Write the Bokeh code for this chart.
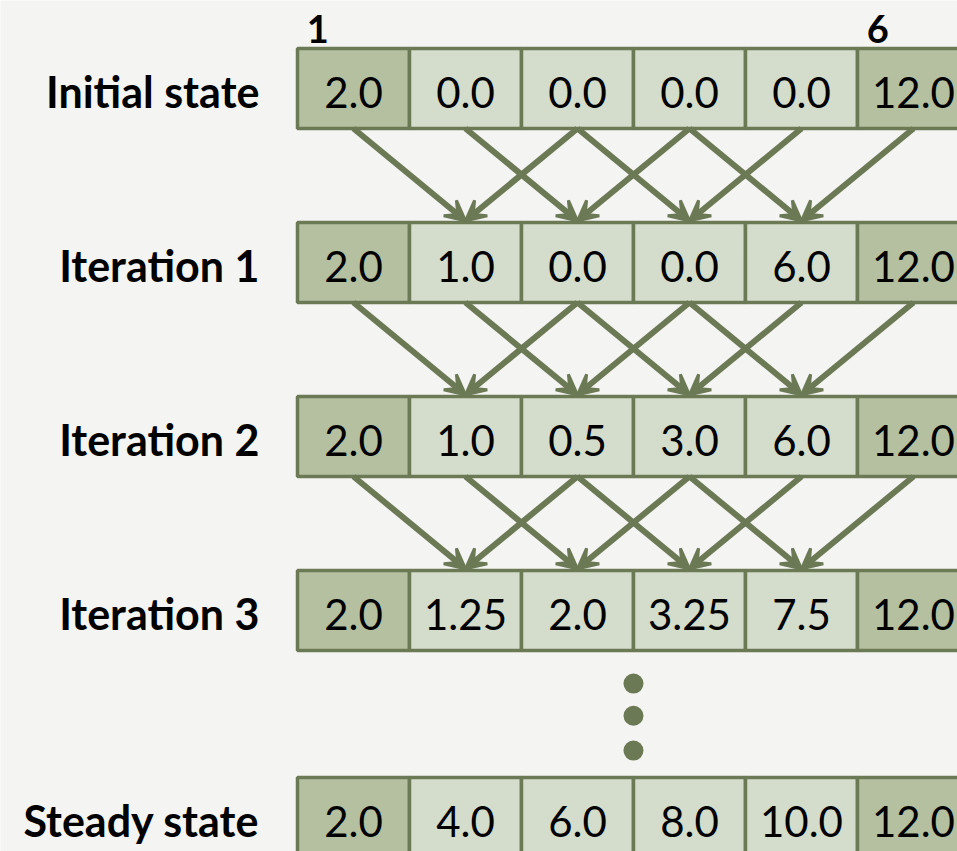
from bokeh.plotting import figure
from bokeh.models import Range1d, ColumnDataSource, Arrow, VeeHead
from bokeh.core.properties import value
from bokeh.embed import file_html
from bokeh.resources import INLINE

# ---- data ----
row_labels = ["Initial state", "Iteration 1", "Iteration 2", "Iteration 3", "Steady state"]
row_values = [
    ["2.0", "0.0", "0.0", "0.0", "0.0", "12.0"],
    ["2.0", "1.0", "0.0", "0.0", "6.0", "12.0"],
    ["2.0", "1.0", "0.5", "3.0", "6.0", "12.0"],
    ["2.0", "1.25", "2.0", "3.25", "7.5", "12.0"],
    ["2.0", "4.0", "6.0", "8.0", "10.0", "12.0"],
]
column_headers = {1: "1", 6: "6"}
boundary_columns = [1, 6]          # fixed (darker) cells
row_positions = [0, 1, 2, 3, 4.19]  # vertical slot of each row
ellipsis_y = [3.42, 3.605, 3.805]

# ---- style ----
DARK = "#b4c0a0"
LIGHT = "#d4dccb"
EDGE = "#6b7955"
BG = "#f4f4f2"
ROW_H = 80 / 174

ncols = len(row_values[0])

p = figure(width=957, height=851, output_backend="svg", toolbar_location=None,
           x_range=Range1d(-2.1518, 6.393), y_range=Range1d(4.385, -0.5057),
           min_border=0)
p.axis.visible = False
p.grid.visible = False
p.outline_line_color = None
p.background_fill_color = BG
p.border_fill_color = BG

# cells
xs, ys, fills, texts = [], [], [], []
for r, vals in enumerate(row_values):
    for c, v in enumerate(vals, start=1):
        xs.append(c)
        ys.append(row_positions[r])
        fills.append(DARK if c in boundary_columns else LIGHT)
        texts.append(v)
src = ColumnDataSource(dict(x=xs, y=ys, fill=fills, text=texts))
p.rect(x="x", y="y", width=1, height=ROW_H, source=src, fill_color="fill",
       line_color=EDGE, line_width=3.5)
p.text(x="x", y="y", text="text", source=src, text_align="center",
       text_baseline="middle", text_font=value("Lato"), text_font_size="42px",
       text_color="#000000", y_offset=4)

# arrows between consecutive iteration rows
xs0, ys0, xs1, ys1 = [], [], [], []
for r in range(3):
    for tgt in range(2, ncols):
        for srcc in (tgt - 1, tgt + 1):
            xs0.append(srcc)
            ys0.append(row_positions[r] + ROW_H / 2)
            xs1.append(tgt)
            ys1.append(row_positions[r + 1] - ROW_H / 2 - 0.01)
asrc = ColumnDataSource(dict(x0=xs0, y0=ys0, x1=xs1, y1=ys1))
p.add_layout(Arrow(x_start="x0", y_start="y0", x_end="x1", y_end="y1", source=asrc,
                   line_color=EDGE, line_width=6,
                   end=VeeHead(size=20, fill_color=EDGE, line_color=EDGE, line_width=3)))

# row labels
p.text(x=[0.16] * len(row_labels), y=row_positions, text=row_labels,
       text_align="right", text_baseline="middle", text_font=value("Lato"),
       text_font_style="bold", text_font_size="43px", text_color="#000000", y_offset=3)

# column headers
hx = [c - 0.32 for c in column_headers]
p.text(x=hx, y=[-0.356] * len(hx), text=list(column_headers.values()),
       text_align="center", text_baseline="middle", text_font=value("Lato"),
       text_font_style="bold", text_font_size="38px", text_color="#000000", y_offset=2)

# vertical ellipsis
p.scatter(x=[(ncols) / 2 + 0.5] * 3, y=ellipsis_y, marker="circle", size=20,
          fill_color=EDGE, line_color=None)

open("out.html", "w").write(file_html(p, INLINE))
